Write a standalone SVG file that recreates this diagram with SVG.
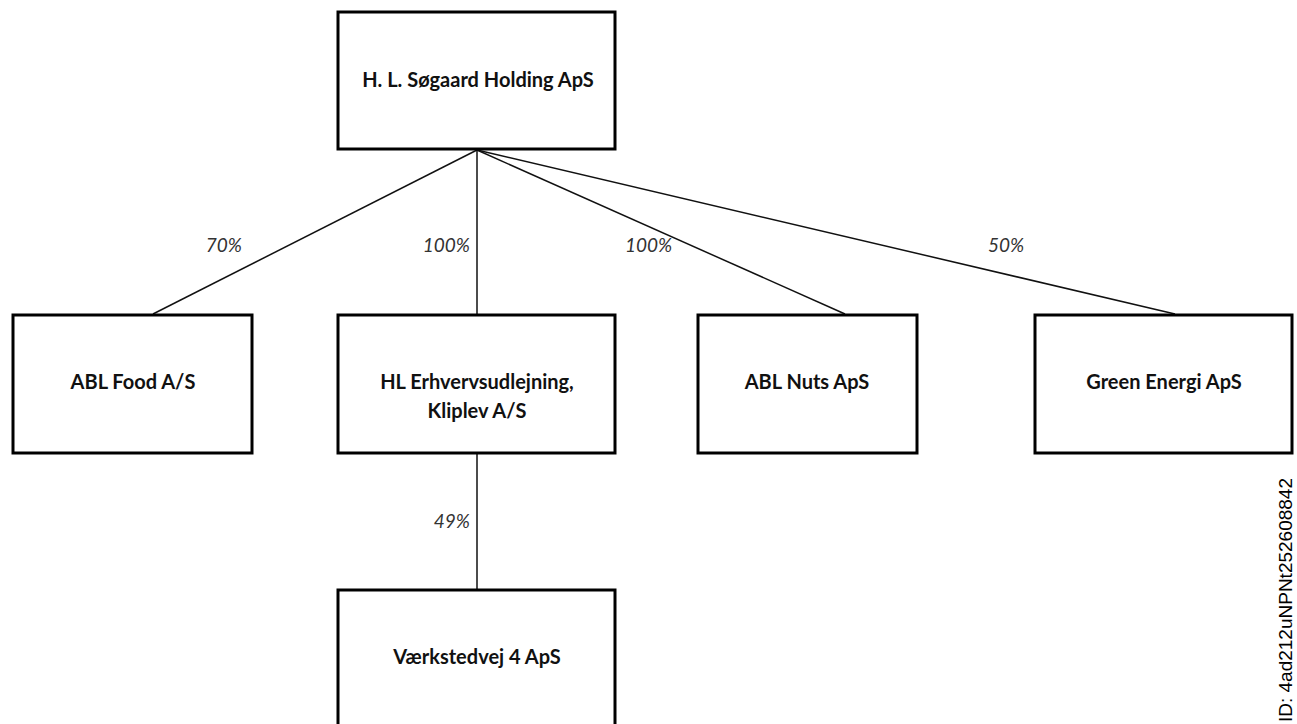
<svg xmlns="http://www.w3.org/2000/svg" width="1297" height="724" viewBox="0 0 1297 724">
<style>
.box{fill:#fff;stroke:#000;stroke-width:3}
.name{font-family:Lato,"Liberation Sans",sans-serif;font-weight:bold;font-size:20px;fill:#111;text-anchor:middle}
.pct{font-family:Lato,"Liberation Sans",sans-serif;font-style:italic;font-size:19px;fill:#333}
.conn{stroke:#111;stroke-width:1.5;fill:none}
</style>
<rect width="1297" height="724" fill="#fff"/>
<g id="connectors">
<line class="conn" x1="477" y1="150" x2="153" y2="314"/>
<line class="conn" x1="477" y1="150" x2="477" y2="314"/>
<line class="conn" x1="477" y1="150" x2="845" y2="314"/>
<line class="conn" x1="477" y1="150" x2="1175" y2="314"/>
<line class="conn" x1="477" y1="453" x2="477" y2="590"/>
<text class="pct" x="242" y="252" text-anchor="end">70%</text>
<text class="pct" x="470" y="252" text-anchor="end">100%</text>
<text class="pct" x="625" y="252">100%</text>
<text class="pct" x="988" y="252">50%</text>
<text class="pct" x="470" y="528" text-anchor="end">49%</text>
</g>
<g id="holding">
<rect class="box" x="338" y="12" width="277" height="137"/>
<text class="name" x="478" y="87">H. L. Søgaard Holding ApS</text>
</g>
<g id="ablfood">
<rect class="box" x="13" y="315" width="239" height="138"/>
<text class="name" x="133" y="389">ABL Food A/S</text>
</g>
<g id="hlerhverv">
<rect class="box" x="338" y="315" width="277" height="138"/>
<text class="name" x="477" y="389">HL Erhvervsudlejning,</text>
<text class="name" x="477" y="418">Kliplev A/S</text>
</g>
<g id="ablnuts">
<rect class="box" x="698" y="315" width="219" height="138"/>
<text class="name" x="807" y="389">ABL Nuts ApS</text>
</g>
<g id="greenenergi">
<rect class="box" x="1035" y="315" width="257" height="138"/>
<text class="name" x="1164" y="389">Green Energi ApS</text>
</g>
<g id="vaerkstedvej">
<rect class="box" x="338" y="590" width="277" height="150"/>
<text class="name" x="477" y="664">Værkstedvej 4 ApS</text>
</g>
<text x="1292" y="478" transform="rotate(-90 1292 478)" font-family="'Liberation Sans',Arial,sans-serif" font-size="19" fill="#000" text-anchor="end">ID: 4ad212uNPNt252608842</text>
</svg>
